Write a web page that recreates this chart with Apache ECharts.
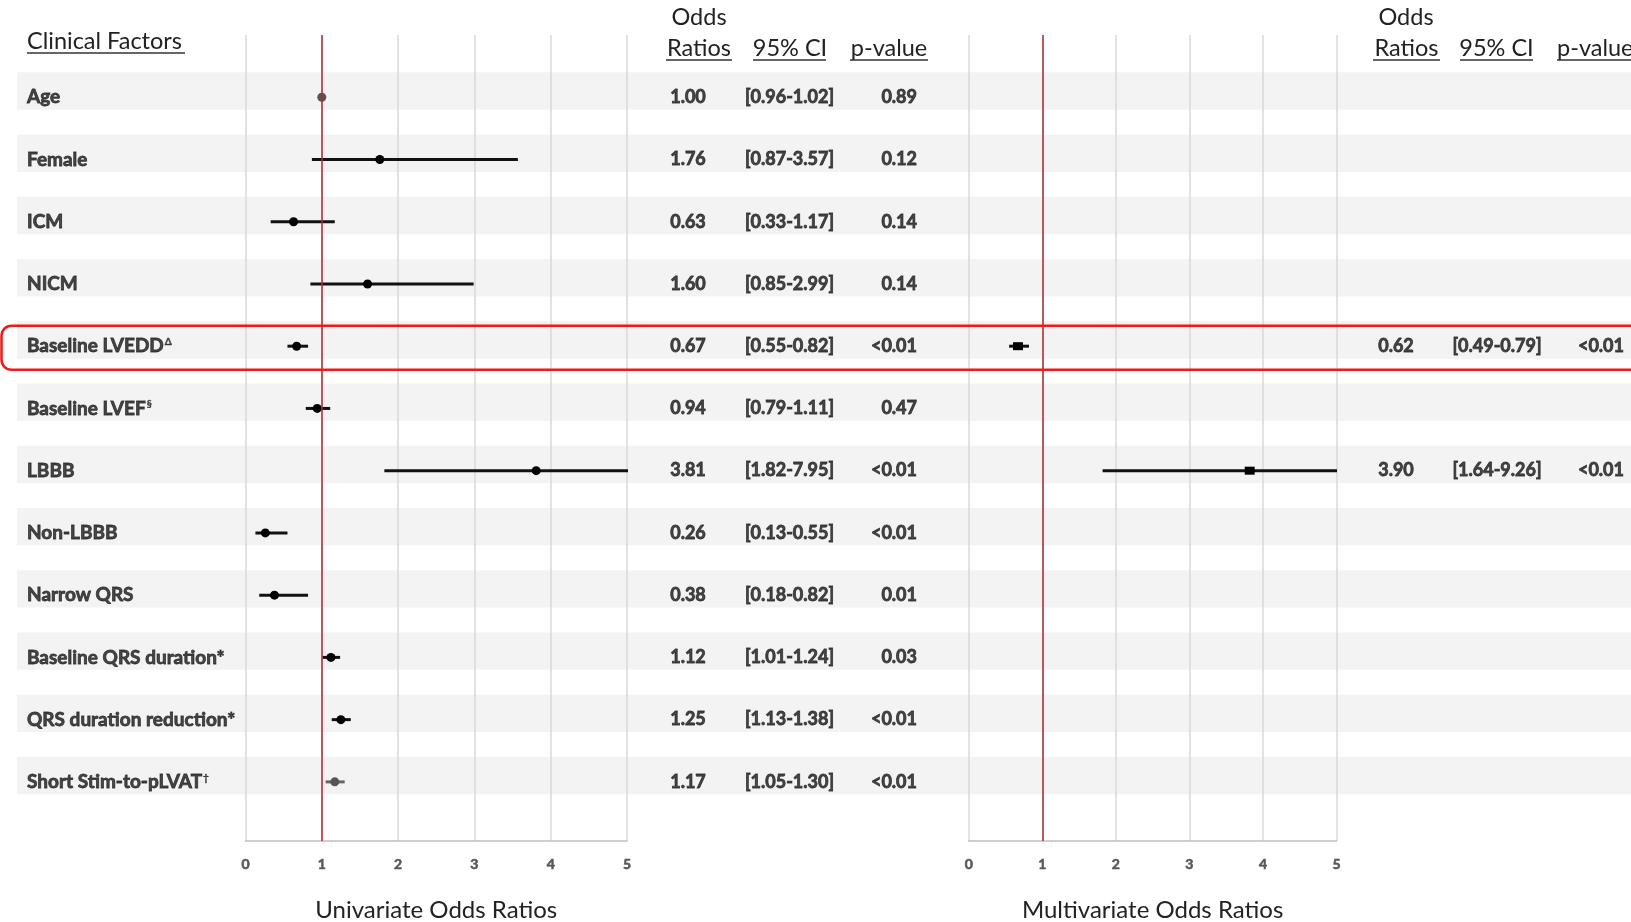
<!DOCTYPE html>
<html>
<head>
<meta charset="utf-8">
<script src="https://cdn.jsdelivr.net/npm/echarts@6/dist/echarts.min.js"></script>
<style>
  html, body { margin: 0; padding: 0; background: #fff; }
  #main { width: 1631px; height: 922px; }
</style>
</head>
<body>
<div id="main"></div>
<script>
// 数据
const factors = ['Age', 'Female', 'ICM', 'NICM', 'Baseline LVEDD', 'Baseline LVEF', 'LBBB', 'Non-LBBB',
  'Narrow QRS', 'Baseline QRS duration*', 'QRS duration reduction*', 'Short Stim-to-pLVAT'];
const factorSup = ['', '', '', '', 'Δ', '§', '', '', '', '', '', '†'];

// 单变量
const uniOR = [1.00, 1.76, 0.63, 1.60, 0.67, 0.94, 3.81, 0.26, 0.38, 1.12, 1.25, 1.17];
const uniLo = [0.96, 0.87, 0.33, 0.85, 0.55, 0.79, 1.82, 0.13, 0.18, 1.01, 1.13, 1.05];
const uniHi = [1.02, 3.57, 1.17, 2.99, 0.82, 1.11, 7.95, 0.55, 0.82, 1.24, 1.38, 1.30];
const uniP = ['0.89', '0.12', '0.14', '0.14', '<0.01', '0.47', '<0.01', '<0.01', '0.01', '0.03', '<0.01', '<0.01'];

// 多变量 (only two rows)
const multiRows = [4, 6];
const multiORText = ['0.62', '3.90'];
const multiCIText = ['[0.49-0.79]', '[1.64-9.26]'];
const multiPText = ['<0.01', '<0.01'];
// plotted positions in the multivariate panel
const multiPlotOR = [0.67, 3.82];
const multiPlotLo = [0.55, 1.82];
const multiPlotHi = [0.82, 7.95];

const highlightRows = [4];

const FONT = 'Lato';
const INK = '#1a1a1a';
const fmt2 = v => v.toFixed(2);

// Lato bold is not picked up here, so bold text gets a thin outline of its own colour
const fauxBold = { textBorderColor: INK, textBorderWidth: 0.8 };

var chart = echarts.init(document.getElementById('main'));

const yRange = { min: -1, max: 11.95 };
const gridTop = 35, gridBottom = 81;

function oddsAxis(gridIndex, name) {
  return {
    gridIndex: gridIndex,
    type: 'value',
    min: 0,
    max: 5,
    interval: 1,
    z: 1,
    axisLine: { show: true, onZero: false, lineStyle: { color: '#bfbfbf', width: 1.5 } },
    axisTick: { show: false },
    axisLabel: {
      margin: 16, fontSize: 14, fontWeight: 'bold', color: '#595959', fontFamily: FONT,
      textBorderColor: '#595959', textBorderWidth: 0.6
    },
    splitLine: { show: true, lineStyle: { color: '#d9d9d9', width: 1.5 } },
    name: name,
    nameLocation: 'middle',
    nameGap: 57,
    nameTextStyle: { fontSize: 24, color: '#222', fontFamily: FONT }
  };
}

function rowAxis(gridIndex) {
  return { gridIndex: gridIndex, type: 'value', inverse: true, min: yRange.min, max: yRange.max, show: false };
}

function ciRender(params, api) {
  const lo = api.coord([api.value(0), api.value(2)]);
  const hi = api.coord([api.value(1), api.value(2)]);
  const i = api.value(2);
  return {
    type: 'line',
    shape: { x1: lo[0], y1: lo[1], x2: hi[0], y2: hi[1] },
    style: { stroke: (i === 0 || i === 11) ? '#666' : '#111', lineWidth: 3 }
  };
}

const valueLabel = (x, rows, texts, pos) => ({
  type: 'scatter',
  xAxisIndex: 0,
  yAxisIndex: 0,
  symbolSize: 0,
  silent: true,
  z: 4,
  data: rows.map((r, k) => [x, r, texts[k]]),
  label: Object.assign({
    show: true,
    position: pos,
    distance: 0,
    formatter: p => p.value[2],
    fontFamily: FONT,
    fontWeight: 'bold',
    fontSize: 18,
    color: INK
  }, fauxBold)
});

const allRows = factors.map((f, i) => i);

// 表头
function header(text, x, y, align) {
  return {
    type: 'text', x: x, y: y, silent: true,
    style: { text: text, fill: '#222', font: '23.5px ' + FONT, textAlign: align || 'center', textVerticalAlign: 'middle' }
  };
}
function underline(x1, x2, y) {
  return { type: 'line', silent: true, shape: { x1: x1, y1: y, x2: x2, y2: y }, style: { stroke: '#333', lineWidth: 1.5 } };
}

const gridBase = { top: gridTop, bottom: gridBottom, containLabel: false, outerBoundsMode: 'none' };

const option = {
  animation: false,
  grid: [
    Object.assign({ left: 0, right: 0 }, gridBase),
    Object.assign({ left: 245.5, width: 381.5 }, gridBase),
    Object.assign({ left: 968.7, width: 367.8 }, gridBase)
  ],
  xAxis: [
    { gridIndex: 0, type: 'value', min: 0, max: 1631, show: false },
    oddsAxis(1, 'Univariate Odds Ratios'),
    oddsAxis(2, 'Multivariate Odds Ratios')
  ],
  yAxis: [rowAxis(0), rowAxis(1), rowAxis(2)],
  graphic: [
    header('Clinical Factors', 27, 41, 'left'),
    underline(27, 185, 53),
    header('Odds', 699, 17),
    header('Ratios', 699, 48),
    underline(666, 732, 60),
    header('95% CI', 790, 48),
    underline(753, 826, 60),
    header('p-value', 889, 48),
    underline(850, 928, 60),
    header('Odds', 1406, 17),
    header('Ratios', 1406.5, 48),
    underline(1373, 1440, 60),
    header('95% CI', 1496.5, 48),
    underline(1460, 1533, 60),
    header('p-value', 1557, 48, 'left'),
    underline(1557, 1640, 60)
  ],
  series: [
    // 灰色条带
    {
      type: 'custom',
      xAxisIndex: 0, yAxisIndex: 0,
      silent: true,
      z: 0,
      data: allRows.map(i => [i]),
      renderItem: function (params, api) {
        const a = api.coord([17, api.value(0) - 0.4]);
        const b = api.coord([1631, api.value(0) + 0.2]);
        return { type: 'rect', shape: { x: a[0], y: a[1], width: b[0] - a[0], height: b[1] - a[1] }, style: { fill: '#f3f3f3' } };
      }
    },
    // 红框
    {
      type: 'custom',
      xAxisIndex: 0, yAxisIndex: 0,
      silent: true,
      z: 5,
      data: highlightRows.map(i => [i]),
      renderItem: function (params, api) {
        const a = api.coord([1.5, api.value(0) - 0.33]);
        const b = api.coord([1660, api.value(0) + 0.38]);
        return { type: 'rect', shape: { x: a[0], y: a[1], width: b[0] - a[0], height: b[1] - a[1], r: 10 }, style: { fill: 'none', stroke: '#f01818', lineWidth: 2.5 } };
      }
    },
    // 因素名称
    {
      type: 'scatter',
      xAxisIndex: 0, yAxisIndex: 0,
      symbolSize: 0,
      silent: true,
      z: 4,
      data: allRows.map(i => [27, i]),
      label: {
        show: true,
        position: 'right',
        distance: 0,
        formatter: function (p) {
          const i = p.dataIndex;
          return factorSup[i] ? '{n|' + factors[i] + '}{s|' + factorSup[i] + '}' : '{n|' + factors[i] + '}';
        },
        rich: {
          n: Object.assign({ fontFamily: FONT, fontWeight: 'bold', fontSize: 19, color: INK }, fauxBold),
          s: Object.assign({ fontFamily: FONT, fontWeight: 'bold', fontSize: 10, color: INK, verticalAlign: 'top', padding: [0, 0, 0, 1] },
            { textBorderColor: INK, textBorderWidth: 0.4 })
        }
      }
    },
    valueLabel(688, allRows, uniOR.map(fmt2), 'inside'),
    valueLabel(789.5, allRows, allRows.map(i => '[' + fmt2(uniLo[i]) + '-' + fmt2(uniHi[i]) + ']'), 'inside'),
    valueLabel(917, allRows, uniP, 'left'),
    valueLabel(1396, multiRows, multiORText, 'inside'),
    valueLabel(1497, multiRows, multiCIText, 'inside'),
    valueLabel(1624, multiRows, multiPText, 'left'),
    // 单变量 CI
    {
      type: 'custom',
      xAxisIndex: 1, yAxisIndex: 1,
      silent: true,
      clip: true,
      z: 3,
      data: allRows.map(i => [uniLo[i], uniHi[i], i]),
      renderItem: ciRender
    },
    {
      type: 'scatter',
      xAxisIndex: 1, yAxisIndex: 1,
      silent: true,
      z: 4,
      symbol: 'circle',
      symbolSize: 9,
      data: uniOR.map((v, i) => [v, i]),
      itemStyle: { color: p => (p.dataIndex === 0 || p.dataIndex === 11) ? '#555' : '#000', opacity: 1 },
      markLine: {
        silent: true,
        symbol: 'none',
        label: { show: false },
        lineStyle: { color: '#b22a2a', width: 1.5, type: 'solid' },
        data: [{ xAxis: 1 }]
      }
    },
    // 多变量 CI
    {
      type: 'custom',
      xAxisIndex: 2, yAxisIndex: 2,
      silent: true,
      clip: true,
      z: 3,
      data: multiRows.map((r, k) => [multiPlotLo[k], multiPlotHi[k], r]),
      renderItem: ciRender
    },
    {
      type: 'scatter',
      xAxisIndex: 2, yAxisIndex: 2,
      silent: true,
      z: 4,
      symbol: 'rect',
      symbolSize: [10, 8],
      data: multiRows.map((r, k) => [multiPlotOR[k], r]),
      itemStyle: { color: '#000', opacity: 1 },
      markLine: {
        silent: true,
        symbol: 'none',
        label: { show: false },
        lineStyle: { color: '#b22a2a', width: 1.5, type: 'solid' },
        data: [{ xAxis: 1 }]
      }
    }
  ]
};

chart.setOption(option);
</script>
</body>
</html>
